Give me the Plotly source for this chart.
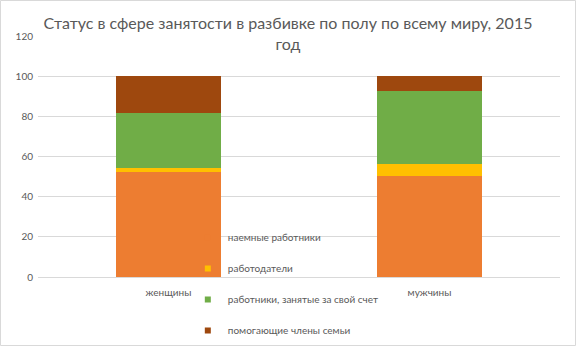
import plotly.graph_objects as go

categories = ["женщины", "мужчины"]
series_names = ["наемные работники", "работодатели",
                "работники, занятые за свой счет", "помогающие члены семьи"]
hired = [52.3, 50.3]
employers = [2.0, 6.0]
own_account = [27.4, 36.3]
family = [18.3, 7.4]
colors = ["#ED7D31", "#FFC000", "#70AD47", "#9E480E"]
values = [hired, employers, own_account, family]

W, H = 576, 346
L, R, T, B = 38, 16, 36, 69
pw, ph = W - L - R, H - T - B

fig = go.Figure()
for name, vals, col in zip(series_names, values, colors):
    fig.add_trace(go.Bar(x=categories, y=vals, name=name, marker_color=col,
                         marker_line_width=0, width=0.4, showlegend=False))
for name, col in zip(series_names, colors):
    fig.add_trace(go.Scatter(x=[None], y=[None], mode="markers", name=name,
                             legendgroup=name,
                             marker=dict(symbol="square", size=6, color=col)))

fig.add_shape(type="rect", xref="paper", yref="paper",
              x0=(0.5 - L) / pw, x1=(W - 0.5 - L) / pw,
              y0=(T + ph - (H - 0.5)) / ph, y1=(T + ph - 0.5) / ph,
              line=dict(color="#D9D9D9", width=1), layer="below")

fig.update_layout(
    width=W, height=H,
    margin=dict(l=L, r=R, t=T, b=B, autoexpand=False),
    barmode="stack",
    paper_bgcolor="white", plot_bgcolor="white",
    font=dict(family="Lato", color="#595959"),
    title=dict(text="Статус в сфере занятости в разбивке по полу по всему миру, 2015<br>год",
               x=0.5, xanchor="center", y=0.917, yanchor="top",
               font=dict(size=16, color="#595959", family="Lato")),
    xaxis=dict(showline=False, ticks="", tickfont=dict(size=10, color="#595959"),
               range=[-0.5, 1.5], ticklabelstandoff=8),
    yaxis=dict(range=[0, 120], dtick=20, gridcolor="#D9D9D9", gridwidth=1,
               zeroline=True, zerolinecolor="#D9D9D9", zerolinewidth=1,
               showline=False, ticks="", ticklabelstandoff=4,
               tickfont=dict(size=10, color="#595959")),
    legend=dict(x=0.287, y=0.224, xanchor="left", yanchor="top",
                bgcolor="rgba(0,0,0,0)", font=dict(size=10, color="#595959"),
                tracegroupgap=12, itemwidth=30),
    showlegend=True,
)

fig.write_html("out.html", config={"displayModeBar": False},
               post_script="document.body.style.margin='0';")
